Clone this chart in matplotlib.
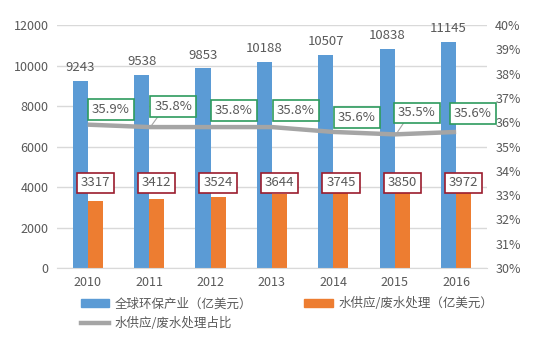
import matplotlib
matplotlib.use("Agg")
import matplotlib.pyplot as plt
from matplotlib.lines import Line2D
from matplotlib.patches import Patch
import numpy as np

plt.rcParams['font.family'] = ['Noto Sans CJK SC', 'DejaVu Sans']

years = ["2010", "2011", "2012", "2013", "2014", "2015", "2016"]
global_env = [9243, 9538, 9853, 10188, 10507, 10838, 11145]
water = [3317, 3412, 3524, 3644, 3745, 3850, 3972]
ratio = [35.9, 35.8, 35.8, 35.8, 35.6, 35.5, 35.6]
ratio_labels = ["35.9%", "35.8%", "35.8%", "35.8%", "35.6%", "35.5%", "35.6%"]

blue = "#5B9BD5"
orange = "#ED7D31"
gray_line = "#A5A5A5"
txt = "#595959"

fig = plt.figure(figsize=(5.4, 3.38), dpi=100)
ax = fig.add_axes([0.1056, 0.207, 0.796, 0.719])
ax2 = ax.twinx()

x = np.arange(len(years))
w = 0.245
ax.bar(x - w / 2, global_env, width=w, color=blue, zorder=2)
ax.bar(x + w / 2, water, width=w, color=orange, zorder=2)

ax.set_xlim(-0.5, len(years) - 0.5)
ax.set_ylim(0, 12000)
ax.set_yticks(np.arange(0, 12001, 2000))
ax.set_xticks(x)
ax.set_xticklabels(years)
ax.grid(axis='y', color='#D9D9D9', linewidth=1, zorder=0)
ax.set_axisbelow(True)
for s in ['top', 'right', 'left']:
    ax.spines[s].set_visible(False)
ax.spines['bottom'].set_color('#D9D9D9')
ax.tick_params(axis='both', length=0, labelsize=9, labelcolor=txt, pad=6)

for s in ['top', 'right', 'left', 'bottom']:
    ax2.spines[s].set_visible(False)
ax2.set_ylim(30, 40)
ax2.set_yticks(np.arange(30, 41, 1))
ax2.set_yticklabels([f"{v}%" for v in range(30, 41)])
ax2.tick_params(axis='y', length=0, labelsize=9, labelcolor=txt, pad=6)

ax2.plot(x, ratio, color=gray_line, linewidth=3.2, zorder=3, solid_capstyle='butt')

# blue bar value labels
for xi, v in zip(x, global_env):
    ax.annotate(str(v), (xi - w / 2, v), xytext=(0, 5), textcoords='offset points',
                ha='center', va='bottom', fontsize=9.5, color=txt)

# orange bar value labels in boxes
for xi, v in zip(x, water):
    ax.text(xi + w / 2, 4200, str(v), ha='center', va='center', fontsize=9.5, color=txt,
            bbox=dict(boxstyle='square,pad=0.3', fc='white', ec='#9B1C2E', lw=1.2), zorder=5)

# percent labels in boxes
pct_dx = [0.38, 0.39, 0.38, 0.39, 0.38, 0.36, 0.27]
pct_y = [36.54, 36.63, 36.5, 36.5, 36.21, 36.38, 36.34]
for i, (lab, dx, yy) in enumerate(zip(ratio_labels, pct_dx, pct_y)):
    ax2.text(x[i] + dx, yy, lab, ha='center', va='center', fontsize=9.5, color=txt,
             bbox=dict(boxstyle='square,pad=0.3', fc='white', ec='#2E9B5E', lw=1.2), zorder=6)

# leader lines
for i in [1, 5]:
    ax2.plot([x[i] + 0.02, x[i] + 0.2], [ratio[i], pct_y[i] - 0.2],
             color=gray_line, linewidth=0.8, zorder=4)

handles = [Patch(color=blue), Line2D([], [], color=gray_line, linewidth=3.2),
           Patch(color=orange)]
labels = ["全球环保产业（亿美元）", "水供应/废水处理占比", "水供应/废水处理（亿美元）"]
leg = fig.legend(handles, labels, loc='upper left', bbox_to_anchor=(0.14, 0.135),
                 ncol=2, frameon=False, fontsize=9, handlelength=2.3, handleheight=0.6,
                 columnspacing=4.2, labelspacing=0.55, handletextpad=0.4, borderaxespad=0)
for t in leg.get_texts():
    t.set_color(txt)

fig.savefig("out.png", dpi=100)
